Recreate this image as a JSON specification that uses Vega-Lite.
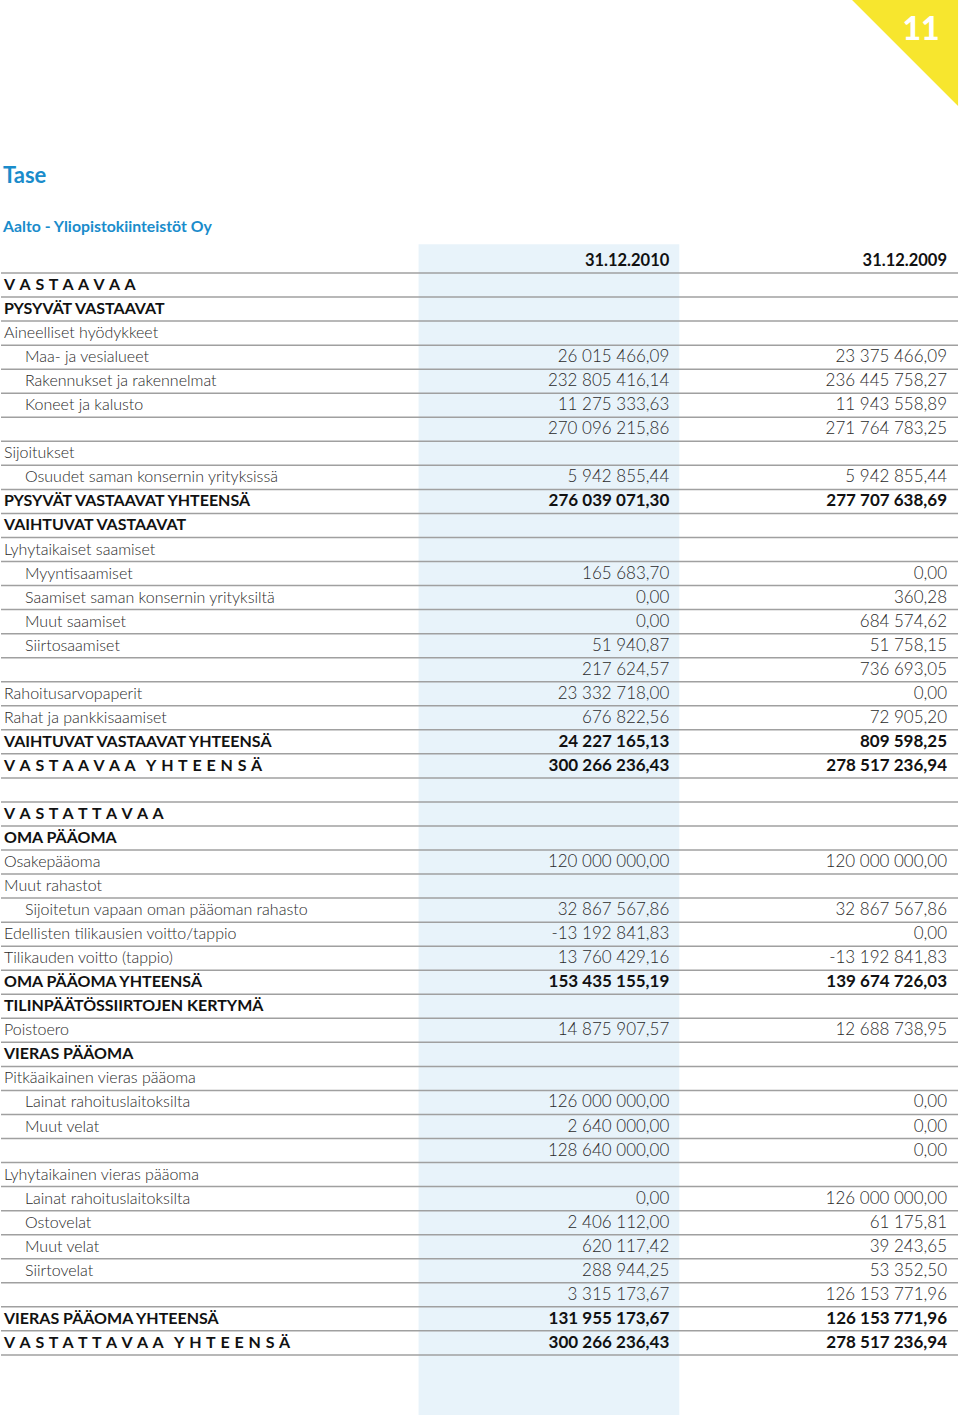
{
  "$schema": "https://vega.github.io/schema/vega-lite/v6.json",
  "width": 960,
  "height": 1415,
  "padding": 0,
  "autosize": {"type": "fit", "contains": "padding"},
  "background": "white",
  "config": {
    "view": {"stroke": null},
    "locale": {"number": {"decimal": ",", "thousands": " ", "grouping": [3], "currency": ["", " €"], "minus": "-"}},
    "text": {"font": "Lato"}
  },
  "datasets": {
    "tase": [
      {"row": 0, "label": "", "kind": "blank"},
      {"row": 1, "label": "V\u200a A\u200a S\u200a T\u200a A\u200a A\u200a V\u200a A\u200a A", "kind": "heading"},
      {"row": 2, "label": "PYSYVÄT VASTAAVAT", "kind": "heading"},
      {"row": 3, "label": "Aineelliset hyödykkeet", "kind": "group"},
      {"row": 4, "label": "Maa- ja vesialueet", "kind": "item", "v2010": 26015466.09, "v2009": 23375466.09},
      {"row": 5, "label": "Rakennukset ja rakennelmat", "kind": "item", "v2010": 232805416.14, "v2009": 236445758.27},
      {"row": 6, "label": "Koneet ja kalusto", "kind": "item", "v2010": 11275333.63, "v2009": 11943558.89},
      {"row": 7, "label": "", "kind": "subtotal", "v2010": 270096215.86, "v2009": 271764783.25},
      {"row": 8, "label": "Sijoitukset", "kind": "group"},
      {"row": 9, "label": "Osuudet saman konsernin yrityksissä", "kind": "item", "v2010": 5942855.44, "v2009": 5942855.44},
      {"row": 10, "label": "PYSYVÄT VASTAAVAT YHTEENSÄ", "kind": "total", "v2010": 276039071.30, "v2009": 277707638.69},
      {"row": 11, "label": "VAIHTUVAT VASTAAVAT", "kind": "heading"},
      {"row": 12, "label": "Lyhytaikaiset saamiset", "kind": "group"},
      {"row": 13, "label": "Myyntisaamiset", "kind": "item", "v2010": 165683.70, "v2009": 0},
      {"row": 14, "label": "Saamiset saman konsernin yrityksiltä", "kind": "item", "v2010": 0, "v2009": 360.28},
      {"row": 15, "label": "Muut saamiset", "kind": "item", "v2010": 0, "v2009": 684574.62},
      {"row": 16, "label": "Siirtosaamiset", "kind": "item", "v2010": 51940.87, "v2009": 51758.15},
      {"row": 17, "label": "", "kind": "subtotal", "v2010": 217624.57, "v2009": 736693.05},
      {"row": 18, "label": "Rahoitusarvopaperit", "kind": "group", "v2010": 23332718.00, "v2009": 0},
      {"row": 19, "label": "Rahat ja pankkisaamiset", "kind": "group", "v2010": 676822.56, "v2009": 72905.20},
      {"row": 20, "label": "VAIHTUVAT VASTAAVAT YHTEENSÄ", "kind": "total", "v2010": 24227165.13, "v2009": 809598.25},
      {"row": 21, "label": "V\u200a A\u200a S\u200a T\u200a A\u200a A\u200a V\u200a A\u200a A\u00a0\u00a0 Y\u200a H\u200a T\u200a E\u200a E\u200a N\u200a S\u200a Ä", "kind": "total", "v2010": 300266236.43, "v2009": 278517236.94},
      {"row": 22, "label": "", "kind": "blank"},
      {"row": 23, "label": "V\u200a A\u200a S\u200a T\u200a A\u200a T\u200a T\u200a A\u200a V\u200a A\u200a A", "kind": "heading"},
      {"row": 24, "label": "OMA PÄÄOMA", "kind": "heading"},
      {"row": 25, "label": "Osakepääoma", "kind": "group", "v2010": 120000000.00, "v2009": 120000000.00},
      {"row": 26, "label": "Muut rahastot", "kind": "group"},
      {"row": 27, "label": "Sijoitetun vapaan oman pääoman rahasto", "kind": "item", "v2010": 32867567.86, "v2009": 32867567.86},
      {"row": 28, "label": "Edellisten tilikausien voitto/tappio", "kind": "group", "v2010": -13192841.83, "v2009": 0},
      {"row": 29, "label": "Tilikauden voitto (tappio)", "kind": "group", "v2010": 13760429.16, "v2009": -13192841.83},
      {"row": 30, "label": "OMA PÄÄOMA YHTEENSÄ", "kind": "total", "v2010": 153435155.19, "v2009": 139674726.03},
      {"row": 31, "label": "TILINPÄÄTÖSSIIRTOJEN KERTYMÄ", "kind": "heading"},
      {"row": 32, "label": "Poistoero", "kind": "group", "v2010": 14875907.57, "v2009": 12688738.95},
      {"row": 33, "label": "VIERAS PÄÄOMA", "kind": "heading"},
      {"row": 34, "label": "Pitkäaikainen vieras pääoma", "kind": "group"},
      {"row": 35, "label": "Lainat rahoituslaitoksilta", "kind": "item", "v2010": 126000000.00, "v2009": 0},
      {"row": 36, "label": "Muut velat", "kind": "item", "v2010": 2640000.00, "v2009": 0},
      {"row": 37, "label": "", "kind": "subtotal", "v2010": 128640000.00, "v2009": 0},
      {"row": 38, "label": "Lyhytaikainen vieras pääoma", "kind": "group"},
      {"row": 39, "label": "Lainat rahoituslaitoksilta", "kind": "item", "v2010": 0, "v2009": 126000000.00},
      {"row": 40, "label": "Ostovelat", "kind": "item", "v2010": 2406112.00, "v2009": 61175.81},
      {"row": 41, "label": "Muut velat", "kind": "item", "v2010": 620117.42, "v2009": 39243.65},
      {"row": 42, "label": "Siirtovelat", "kind": "item", "v2010": 288944.25, "v2009": 53352.50},
      {"row": 43, "label": "", "kind": "subtotal", "v2010": 3315173.67, "v2009": 126153771.96},
      {"row": 44, "label": "VIERAS PÄÄOMA YHTEENSÄ", "kind": "total", "v2010": 131955173.67, "v2009": 126153771.96},
      {"row": 45, "label": "V\u200a A\u200a S\u200a T\u200a A\u200a T\u200a T\u200a A\u200a V\u200a A\u200a A\u00a0\u00a0 Y\u200a H\u200a T\u200a E\u200a E\u200a N\u200a S\u200a Ä", "kind": "total", "v2010": 300266236.43, "v2009": 278517236.94}
    ]
  },
  "data": {"name": "tase"},
  "layer": [
    {
      "data": {"values": [{}]},
      "mark": {"type": "rect", "color": "#e8f3fa"},
      "encoding": {
        "x": {"datum": 418, "type": "quantitative", "scale": {"domain": [0, 960], "nice": false, "zero": false}, "axis": null},
        "x2": {"datum": 679},
        "y": {"datum": -0.7, "type": "quantitative", "scale": {"domain": [-10.857, 48.0], "nice": false, "zero": false, "reverse": true}, "axis": null},
        "y2": {"datum": 48}
      }
    },
    {
      "data": {"values": [{}]},
      "mark": {"type": "point", "shape": "M-1,-1L1,-1L1,1Z", "size": 11236, "filled": true, "color": "#f7e62e", "opacity": 1, "strokeWidth": 0},
      "encoding": {
        "x": {"datum": 905, "type": "quantitative", "axis": null},
        "y": {"datum": -8.652, "type": "quantitative", "axis": null}
      }
    },
    {
      "data": {"values": [{}]},
      "mark": {"type": "text", "text": "11", "fontSize": 32, "fontWeight": 900, "color": "white", "align": "center", "baseline": "middle"},
      "encoding": {
        "x": {"datum": 921, "type": "quantitative", "axis": null},
        "y": {"datum": -9.6, "type": "quantitative", "axis": null}
      }
    },
    {
      "data": {"values": [{}]},
      "mark": {"type": "text", "text": "Tase", "fontSize": 22, "fontWeight": "bold", "color": "#1a8ccb", "align": "left", "baseline": "middle"},
      "encoding": {
        "x": {"datum": 2, "type": "quantitative", "axis": null},
        "y": {"datum": -3.54, "type": "quantitative", "axis": null}
      }
    },
    {
      "data": {"values": [{}]},
      "mark": {"type": "text", "text": "Aalto - Yliopistokiinteistöt Oy", "fontSize": 15.8, "fontWeight": "bold", "color": "#1a8ccb", "align": "left", "baseline": "middle"},
      "encoding": {
        "x": {"datum": 2, "type": "quantitative", "axis": null},
        "y": {"datum": -1.43, "type": "quantitative", "axis": null}
      }
    },
    {
      "mark": {"type": "rule", "color": "#a0a0a0", "strokeWidth": 1.5, "yOffset": 12},
      "encoding": {
        "x": {"datum": 0, "type": "quantitative", "axis": null},
        "x2": {"datum": 958},
        "y": {"field": "row", "type": "quantitative", "axis": null}
      }
    },
    {
      "data": {"values": [{}]},
      "mark": {"type": "text", "text": "31.12.2010", "fontSize": 16.5, "fontWeight": "bold", "color": "#111111", "align": "right", "baseline": "middle"},
      "encoding": {
        "x": {"datum": 669, "type": "quantitative", "axis": null},
        "y": {"datum": 0, "type": "quantitative", "axis": null}
      }
    },
    {
      "data": {"values": [{}]},
      "mark": {"type": "text", "text": "31.12.2009", "fontSize": 16.5, "fontWeight": "bold", "color": "#111111", "align": "right", "baseline": "middle"},
      "encoding": {
        "x": {"datum": 947, "type": "quantitative", "axis": null},
        "y": {"datum": 0, "type": "quantitative", "axis": null}
      }
    },
    {
      "transform": [{"filter": "datum.kind == 'heading' || datum.kind == 'total'"}],
      "mark": {"type": "text", "fontSize": 16, "fontWeight": "bold", "color": "#111111", "align": "left", "baseline": "middle"},
      "encoding": {
        "x": {"datum": 3, "type": "quantitative", "axis": null},
        "y": {"field": "row", "type": "quantitative", "axis": null},
        "text": {"field": "label"}
      }
    },
    {
      "transform": [{"filter": "datum.kind == 'group'"}],
      "mark": {"type": "text", "fontSize": 16, "fontWeight": 300, "color": "#2a2a2a", "align": "left", "baseline": "middle"},
      "encoding": {
        "x": {"datum": 3, "type": "quantitative", "axis": null},
        "y": {"field": "row", "type": "quantitative", "axis": null},
        "text": {"field": "label"}
      }
    },
    {
      "transform": [{"filter": "datum.kind == 'item'"}],
      "mark": {"type": "text", "fontSize": 16, "fontWeight": 300, "color": "#2a2a2a", "align": "left", "baseline": "middle"},
      "encoding": {
        "x": {"datum": 24, "type": "quantitative", "axis": null},
        "y": {"field": "row", "type": "quantitative", "axis": null},
        "text": {"field": "label"}
      }
    },
    {
      "transform": [{"filter": "isValid(datum.v2010) && datum.kind != 'total'"}],
      "mark": {"type": "text", "fontSize": 17, "fontWeight": 300, "color": "#2a2a2a", "align": "right", "baseline": "middle"},
      "encoding": {
        "x": {"datum": 669, "type": "quantitative", "axis": null},
        "y": {"field": "row", "type": "quantitative", "axis": null},
        "text": {"field": "v2010", "type": "quantitative", "format": ",.2f"}
      }
    },
    {
      "transform": [{"filter": "isValid(datum.v2009) && datum.kind != 'total'"}],
      "mark": {"type": "text", "fontSize": 17, "fontWeight": 300, "color": "#2a2a2a", "align": "right", "baseline": "middle"},
      "encoding": {
        "x": {"datum": 947, "type": "quantitative", "axis": null},
        "y": {"field": "row", "type": "quantitative", "axis": null},
        "text": {"field": "v2009", "type": "quantitative", "format": ",.2f"}
      }
    },
    {
      "transform": [{"filter": "isValid(datum.v2010) && datum.kind == 'total'"}],
      "mark": {"type": "text", "fontSize": 17, "fontWeight": "bold", "color": "#111111", "align": "right", "baseline": "middle"},
      "encoding": {
        "x": {"datum": 669, "type": "quantitative", "axis": null},
        "y": {"field": "row", "type": "quantitative", "axis": null},
        "text": {"field": "v2010", "type": "quantitative", "format": ",.2f"}
      }
    },
    {
      "transform": [{"filter": "isValid(datum.v2009) && datum.kind == 'total'"}],
      "mark": {"type": "text", "fontSize": 17, "fontWeight": "bold", "color": "#111111", "align": "right", "baseline": "middle"},
      "encoding": {
        "x": {"datum": 947, "type": "quantitative", "axis": null},
        "y": {"field": "row", "type": "quantitative", "axis": null},
        "text": {"field": "v2009", "type": "quantitative", "format": ",.2f"}
      }
    }
  ]
}
